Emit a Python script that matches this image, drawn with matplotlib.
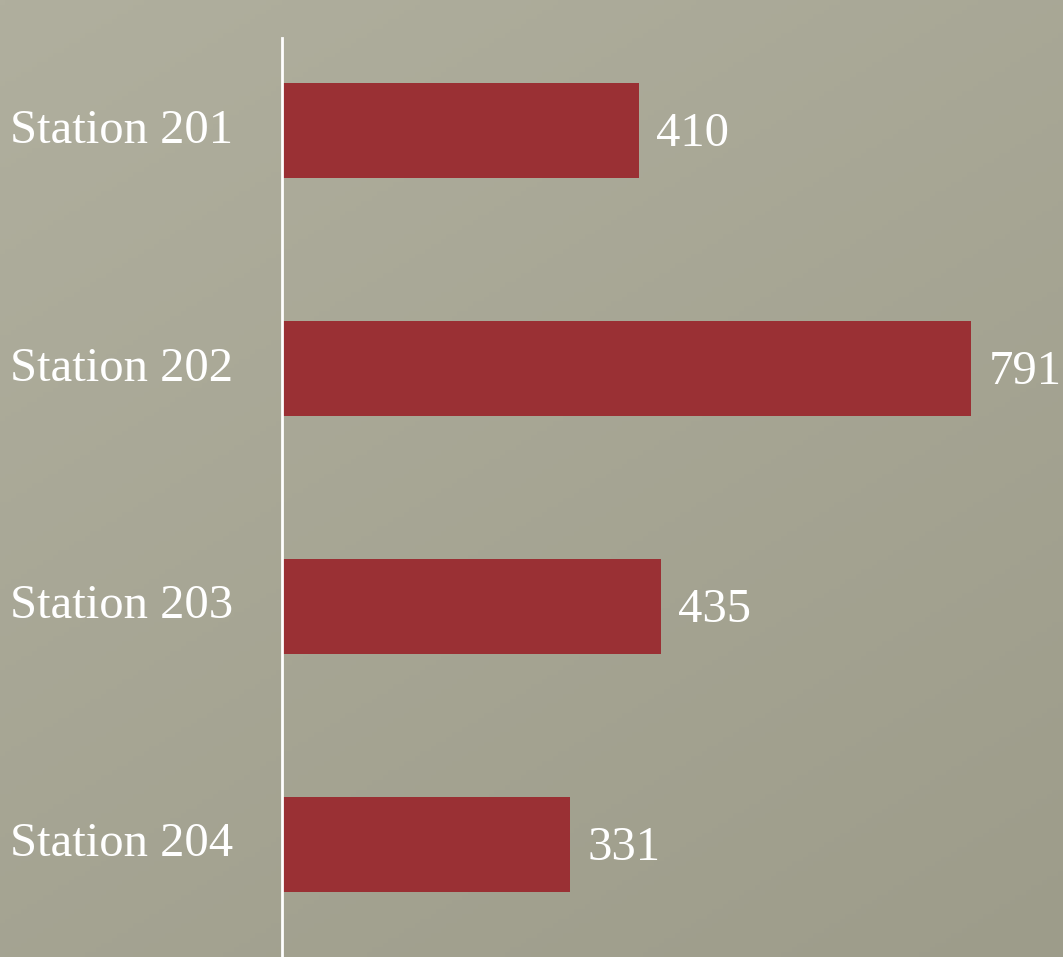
import numpy as np
import matplotlib
matplotlib.use("Agg")
import matplotlib.pyplot as plt

stations = ["Station 201", "Station 202", "Station 203", "Station 204"]
counts = [410, 791, 435, 331]

bar_color = "#9a3034"
plt.rcParams["font.family"] = ["Liberation Serif", "DejaVu Serif"]

fig = plt.figure(figsize=(10.63, 9.57), dpi=100)

# soft paper-like background: light at the top left, a bit darker lower down
bg = fig.add_axes([0, 0, 1, 1], zorder=0)
yy, xx = np.mgrid[0:1:200j, 0:1:200j]
shade = 0.6 * yy + 0.4 * xx
top = np.array([176, 175, 158]) / 255
bottom = np.array([157, 156, 138]) / 255
img = top + shade[..., None] * (bottom - top)
bg.imshow(img, aspect="auto", extent=[0, 1, 0, 1])
bg.axis("off")

ax = fig.add_axes([282 / 1063, 0, 781 / 1063, (957 - 38) / 957], zorder=1)
ax.patch.set_alpha(0)

y = np.arange(len(stations))
ax.barh(y, counts, height=0.4, color=bar_color)
ax.set_xlim(0, 781 / 0.871)
ax.set_ylim(3.473, -0.389)

for yi, c in zip(y, counts):
    ax.annotate(str(c), (c, yi), xytext=(12.5, -2.5), textcoords="offset points",
                va="center", ha="left", color="white", fontsize=35)

for s in ["top", "right", "bottom"]:
    ax.spines[s].set_visible(False)
ax.spines["left"].set_color("white")
ax.spines["left"].set_linewidth(2)
ax.set_xticks([])
ax.set_yticks(y)
ax.set_yticklabels(stations, color="white", fontsize=35, ha="left", va="center")
ax.tick_params(axis="y", length=0, pad=272 * 72 / 100)

fig.savefig("out.png", dpi=100)
